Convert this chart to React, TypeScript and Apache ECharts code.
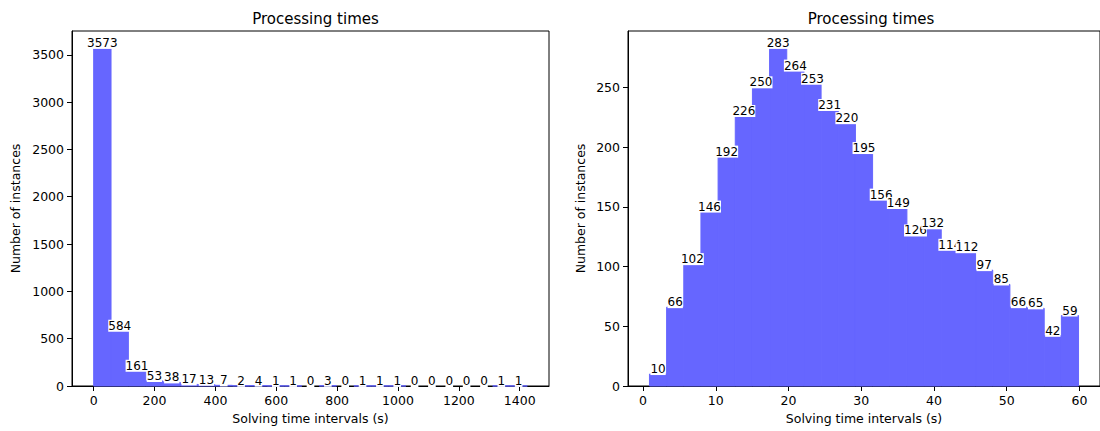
import React, { useEffect, useRef } from "react";
import * as echarts from "echarts";

// ---------- data ----------
const leftCounts = [3573, 584, 161, 53, 38, 17, 13, 7, 2, 4, 1, 1, 0, 3, 0, 1, 1, 1, 0, 0, 0, 0, 0, 1, 1];
const leftBinStart = 0;
const leftBinWidth = 57;
const leftXTicks = [0, 200, 400, 600, 800, 1000, 1200, 1400];
const leftYTicks = [0, 500, 1000, 1500, 2000, 2500, 3000, 3500];

const rightCounts = [10, 66, 102, 146, 192, 226, 250, 283, 264, 253, 231, 220, 195, 156, 149, 126, 132, 114, 112, 97, 85, 66, 65, 42, 59];
const rightBinStart = 0.88;
const rightBinWidth = 2.36;
const rightXTicks = [0, 10, 20, 30, 40, 50, 60];
const rightYTicks = [0, 50, 100, 150, 200, 250];

const titleText = "Processing times";
const xName = "Solving time intervals (s)";
const yName = "Number of instances";

const FONT = "DejaVu Sans";
const BAR = "#6666ff";

function bins(counts: number[], start: number, width: number) {
  return counts.map((c, i) => [start + i * width, start + (i + 1) * width, c]);
}

function barSeries(idx: number, data: number[][]) {
  return {
    type: "custom",
    xAxisIndex: idx,
    yAxisIndex: idx,
    data,
    z: 2,
    renderItem: (_p: any, api: any) => {
      const p0 = api.coord([api.value(0), api.value(2)]);
      const p1 = api.coord([api.value(1), 0]);
      return {
        type: "rect",
        shape: { x: p0[0], y: p0[1], width: p1[0] - p0[0], height: p1[1] - p0[1] },
        style: { fill: BAR, stroke: api.value(2) > 0 ? BAR : null, lineWidth: 1 },
      };
    },
  };
}

function labelSeries(idx: number, data: number[][]) {
  return {
    type: "custom",
    xAxisIndex: idx,
    yAxisIndex: idx,
    data,
    z: 5,
    renderItem: (_p: any, api: any) => {
      const p0 = api.coord([api.value(0), api.value(2)]);
      const p1 = api.coord([api.value(1), 0]);
      return {
        type: "text",
        x: (p0[0] + p1[0]) / 2,
        y: p0[1] + 1,
        style: {
          text: String(api.value(2)),
          align: "center",
          verticalAlign: "bottom",
          font: `12px "${FONT}"`,
          fill: "#000",
          backgroundColor: "#fff",
          padding: [0, 0, 0, 0],
        },
      };
    },
  };
}

const plain = (v: number) => String(v);

function xAxis(idx: number, min: number, max: number, ticks: number[]) {
  return {
    type: "value",
    gridIndex: idx,
    min,
    max,
    name: xName,
    nameLocation: "middle",
    nameGap: 26,
    nameTextStyle: { fontFamily: FONT, fontSize: 12.5, color: "#000" },
    axisLine: { show: true, onZero: false, lineStyle: { color: "#000", width: 1 } },
    axisTick: { show: true, inside: false, length: 5, lineStyle: { color: "#000" }, customValues: ticks },
    axisLabel: { show: true, color: "#000", fontFamily: FONT, fontSize: 12.5, margin: 8, customValues: ticks, formatter: plain },
    splitLine: { show: false },
  };
}

function yAxis(idx: number, max: number, ticks: number[], gap: number) {
  return {
    type: "value",
    gridIndex: idx,
    min: 0,
    max,
    name: yName,
    nameLocation: "middle",
    nameGap: gap,
    nameRotate: 90,
    nameTextStyle: { fontFamily: FONT, fontSize: 12.5, color: "#000" },
    axisLine: { show: true, onZero: false, lineStyle: { color: "#000", width: 1 } },
    axisTick: { show: true, inside: false, length: 5, lineStyle: { color: "#000" }, customValues: ticks },
    axisLabel: { show: true, color: "#000", fontFamily: FONT, fontSize: 12.5, margin: 8, customValues: ticks, formatter: plain },
    splitLine: { show: false },
  };
}

export default function App() {
  const ref = useRef<HTMLDivElement>(null);
  useEffect(() => {
    if (!ref.current) return;
    const chart = echarts.init(ref.current, null, { renderer: "svg" });
    const leftData = bins(leftCounts, leftBinStart, leftBinWidth);
    const rightData = bins(rightCounts, rightBinStart, rightBinWidth);
    const lMax = leftBinStart + leftCounts.length * leftBinWidth;
    const lPad = (lMax - leftBinStart) * 0.05;
    const rMax = rightBinStart + rightCounts.length * rightBinWidth;
    const rPad = (rMax - rightBinStart) * 0.05;
    const lY = Math.max(...leftCounts) * 1.05;
    const rY = Math.max(...rightCounts) * 1.05;
    chart.setOption({
      animation: false,
      backgroundColor: "#fff",
      title: [
        {
          text: titleText,
          left: 310.5,
          top: 6,
          textAlign: "center",
          textStyle: { fontFamily: FONT, fontSize: 15, fontWeight: "normal", color: "#000" },
        },
        {
          text: titleText,
          left: 866,
          top: 6,
          textAlign: "center",
          textStyle: { fontFamily: FONT, fontSize: 15, fontWeight: "normal", color: "#000" },
        },
      ],
      grid: [
        { left: 72, right: 551, top: 31, bottom: 45, show: true, borderColor: "#000", borderWidth: 1, backgroundColor: "transparent" },
        { left: 628, right: -4, top: 31, bottom: 45, show: true, borderColor: "#000", borderWidth: 1, backgroundColor: "transparent" },
      ],
      xAxis: [
        xAxis(0, leftBinStart - lPad, lMax + lPad, leftXTicks),
        xAxis(1, rightBinStart - rPad, rMax + rPad, rightXTicks),
      ],
      yAxis: [yAxis(0, lY, leftYTicks, 50), yAxis(1, rY, rightYTicks, 41)],
      series: [
        barSeries(0, leftData),
        barSeries(1, rightData),
        labelSeries(0, leftData),
        labelSeries(1, rightData),
      ],
    });
    return () => chart.dispose();
  }, []);
  return (
    <div
      ref={ref}
      style={{ position: "fixed", left: 0, top: 0, width: 1100, height: 431, background: "#fff" }}
    />
  );
}
